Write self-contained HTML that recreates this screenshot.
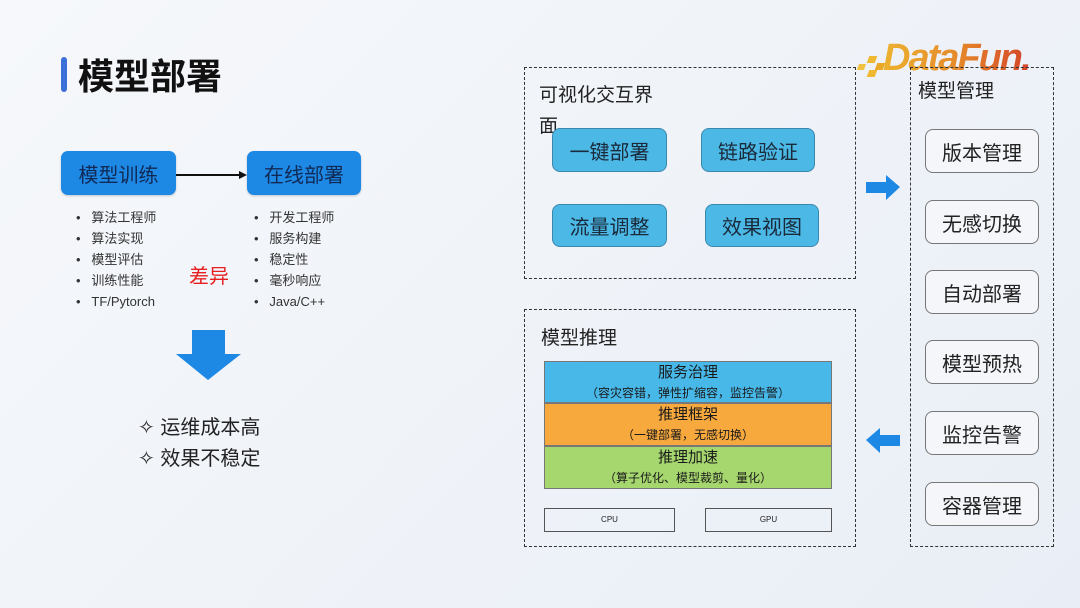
<!DOCTYPE html>
<html><head><meta charset="utf-8"><style>
*{margin:0;padding:0;box-sizing:border-box}
body{width:1080px;height:608px;overflow:hidden;background:linear-gradient(135deg,#f6f8fb 0%,#eef2f8 60%,#e9eef6 100%);font-family:"Liberation Sans","Noto Sans CJK SC",sans-serif;position:relative;color:#222}
.a{position:absolute}
.bb{background:#1e88e5;border-radius:7px;color:#102a55;font-size:20px;display:flex;align-items:center;justify-content:center;box-shadow:0 1px 2px rgba(0,0,0,.2)}
.li{font-size:13px;color:#333;line-height:21px}
.dash{border:1.5px dashed #333}
.cb{background:#4cb8e6;border:1.5px solid #3a88ad;border-radius:8px;font-size:20px;color:#1a2a3a;display:flex;align-items:center;justify-content:center}
.wb{border:1.5px solid #777;border-radius:8px;font-size:20px;color:#222;display:flex;align-items:center;justify-content:center;background:#f4f6fa}
.st{left:544px;width:288px;border:1px solid #777;text-align:center;color:#1a1a1a}
</style></head><body>
<div class="a" style="left:61px;top:57px;width:6px;height:35px;background:#3d6fd8;border-radius:3px"></div>
<div class="a" style="left:78px;top:48px;font-size:36px;font-weight:bold;color:#111">模型部署</div>

<div class="a bb" style="left:61px;top:151px;width:115px;height:44px">模型训练</div>
<div class="a bb" style="left:247px;top:151px;width:114px;height:44px">在线部署</div>
<svg class="a" style="left:176px;top:168px" width="72" height="14"><line x1="0" y1="7" x2="64" y2="7" stroke="#111" stroke-width="2"/><polygon points="63,3 71,7 63,11" fill="#111"/></svg>

<div class="a li" style="left:76px;top:207px">•&nbsp;&nbsp;&nbsp;算法工程师<br>•&nbsp;&nbsp;&nbsp;算法实现<br>•&nbsp;&nbsp;&nbsp;模型评估<br>•&nbsp;&nbsp;&nbsp;训练性能<br>•&nbsp;&nbsp;&nbsp;TF/Pytorch</div>
<div class="a li" style="left:254px;top:207px">•&nbsp;&nbsp;&nbsp;开发工程师<br>•&nbsp;&nbsp;&nbsp;服务构建<br>•&nbsp;&nbsp;&nbsp;稳定性<br>•&nbsp;&nbsp;&nbsp;毫秒响应<br>•&nbsp;&nbsp;&nbsp;Java/C++</div>
<div class="a" style="left:189px;top:260px;font-size:20px;color:#e62020">差异</div>

<svg class="a" style="left:175px;top:330px" width="68" height="52"><polygon points="17,0 50,0 50,24 66,24 33,50 1,24 17,24" fill="#1e88e5"/></svg>
<div class="a" style="left:138px;top:413px;font-size:20px;line-height:31px;color:#222">✧ 运维成本高<br>✧ 效果不稳定</div>

<!-- DataFun logo -->
<div class="a" style="left:858px;top:50px;width:30px;height:30px">
<div class="a" style="left:0;top:14px;width:7px;height:6px;background:#f0c040;transform:skewX(-20deg)"></div>
<div class="a" style="left:10px;top:6px;width:8px;height:7px;background:#eeb830;transform:skewX(-20deg)"></div>
<div class="a" style="left:10px;top:20px;width:8px;height:7px;background:#eeb830;transform:skewX(-20deg)"></div>
<div class="a" style="left:18px;top:13px;width:8px;height:7px;background:#e9a828;transform:skewX(-20deg)"></div>
</div>
<div class="a" style="left:883px;top:37px;font-size:38px;font-weight:bold;font-style:italic;letter-spacing:-2px;background:linear-gradient(90deg,#ecb230,#e58a2a 50%,#d4442a);-webkit-background-clip:text;color:transparent">DataFun.</div>

<div class="a dash" style="left:524px;top:67px;width:332px;height:212px"></div>
<div class="a" style="left:539px;top:80px;font-size:19px;line-height:31px">可视化交互界<br>面</div>
<div class="a cb" style="left:552px;top:128px;width:115px;height:44px">一键部署</div>
<div class="a cb" style="left:701px;top:128px;width:114px;height:44px">链路验证</div>
<div class="a cb" style="left:552px;top:204px;width:115px;height:43px">流量调整</div>
<div class="a cb" style="left:705px;top:204px;width:114px;height:43px">效果视图</div>

<svg class="a" style="left:866px;top:174px" width="36" height="28"><polygon points="0,8 20,8 20,1 34,13 20,26 20,19 0,19" fill="#1e88e5"/></svg>
<svg class="a" style="left:866px;top:427px" width="36" height="28"><polygon points="34,8 14,8 14,1 0,13 14,26 14,19 34,19" fill="#1e88e5"/></svg>

<div class="a dash" style="left:524px;top:309px;width:332px;height:238px"></div>
<div class="a" style="left:541px;top:323px;font-size:19px">模型推理</div>
<div class="a st" style="top:361px;height:42px;background:#47b8e8"><div style="font-size:15px;line-height:22px">服务治理</div><div style="font-size:12px;line-height:18px">（容灾容错，弹性扩缩容，监控告警）</div></div>
<div class="a st" style="top:403px;height:43px;background:#f7a93e"><div style="font-size:15px;line-height:22px">推理框架</div><div style="font-size:12px;line-height:19px">（一键部署，无感切换）</div></div>
<div class="a st" style="top:446px;height:43px;background:#a6d76e"><div style="font-size:15px;line-height:22px">推理加速</div><div style="font-size:12px;line-height:19px">（算子优化、模型裁剪、量化）</div></div>
<div class="a" style="left:544px;top:508px;width:131px;height:24px;border:1.5px solid #555;font-size:8px;text-align:center;line-height:21px">CPU</div>
<div class="a" style="left:705px;top:508px;width:127px;height:24px;border:1.5px solid #555;font-size:8px;text-align:center;line-height:21px">GPU</div>

<div class="a dash" style="left:910px;top:67px;width:144px;height:480px"></div>
<div class="a" style="left:918px;top:76px;font-size:19px">模型管理</div>
<div class="a wb" style="left:925px;top:129px;width:114px;height:44px">版本管理</div>
<div class="a wb" style="left:925px;top:200px;width:114px;height:44px">无感切换</div>
<div class="a wb" style="left:925px;top:270px;width:114px;height:44px">自动部署</div>
<div class="a wb" style="left:925px;top:340px;width:114px;height:44px">模型预热</div>
<div class="a wb" style="left:925px;top:411px;width:114px;height:44px">监控告警</div>
<div class="a wb" style="left:925px;top:482px;width:114px;height:44px">容器管理</div>
</body></html>
